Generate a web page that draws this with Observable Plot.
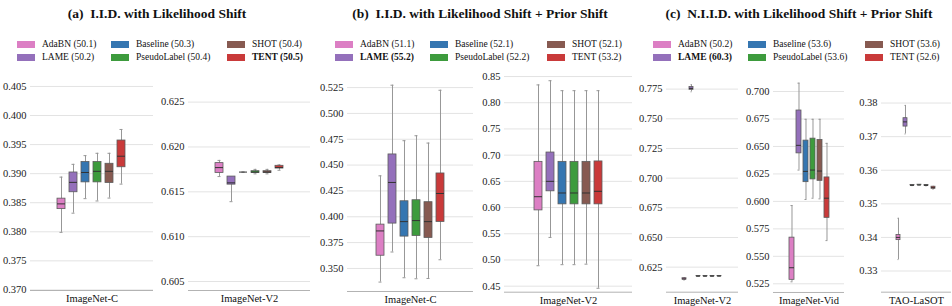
<!DOCTYPE html>
<html>
<head>
<meta charset="utf-8">
<script src="https://cdn.jsdelivr.net/npm/d3@7"></script>
<script src="https://cdn.jsdelivr.net/npm/@observablehq/plot@0.6"></script>
<style>
  body { margin: 0; background: #fff; }
  #root { position: relative; width: 952px; height: 306px; overflow: hidden; font-family: "Liberation Serif", "DejaVu Serif", serif; color: #111; }
  .title { position: absolute; font-weight: bold; font-size: 13.5px; text-align: center; white-space: pre; font-family: "Liberation Serif", "DejaVu Serif", serif; }
  .leg { position: absolute; font-size: 9.5px; white-space: pre; display: flex; align-items: center; font-family: "Liberation Serif", "DejaVu Serif", serif; }
  .sw { display: inline-block; width: 18px; height: 7px; margin-right: 7px; }
  .plot { position: absolute; }
</style>
</head>
<body>
<div id="root"></div>
<script>
// ---------------- data ----------------
const methods = ["AdaBN", "LAME", "Baseline", "PseudoLabel", "SHOT", "TENT"];
const colors = ["#dc7fc4", "#9470bb", "#3576b1", "#3d9b3d", "#875a51", "#c93a3a"];
const titles = [
  "(a)  I.I.D. with Likelihood Shift",
  "(b)  I.I.D. with Likelihood Shift + Prior Shift",
  "(c)  N.I.I.D. with Likelihood Shift + Prior Shift"
];
const scoresA = [50.1, 50.2, 50.3, 50.4, 50.4, 50.5];
const scoresB = [51.1, 55.2, 52.1, 52.2, 52.1, 53.2];
const scoresC = [50.2, 60.3, 53.6, 53.6, 53.6, 52.6];
const datasets = ["ImageNet-C", "ImageNet-V2", "ImageNet-C", "ImageNet-V2", "ImageNet-V2", "ImageNet-Vid", "TAO-LaSOT"];

// per method: [whisker low, Q1, median, Q3, whisker high]
const boxA_C = [
  [0.3799, 0.3839, 0.3848, 0.3857, 0.3894],
  [0.3832, 0.3868, 0.3885, 0.3902, 0.3916],
  [0.3857, 0.3885, 0.3902, 0.3920, 0.3931],
  [0.3853, 0.3885, 0.3904, 0.3920, 0.3935],
  [0.3858, 0.3884, 0.3904, 0.3917, 0.3935],
  [0.3882, 0.3911, 0.3930, 0.3957, 0.3976]
];
const boxA_V2 = [
  [0.6167, 0.6171, 0.6177, 0.6182, 0.6185],
  [0.6139, 0.6158, 0.6160, 0.6167, 0.6167],
  [0.6172, 0.6172, 0.6172, 0.6172, 0.6172],
  [0.6170, 0.6171, 0.6172, 0.6173, 0.6175],
  [0.6170, 0.6171, 0.6172, 0.6173, 0.6175],
  [0.6174, 0.6176, 0.6177, 0.6179, 0.6180]
];
const boxB_C = [
  [0.3368, 0.3623, 0.3863, 0.3924, 0.4396],
  [0.3659, 0.3934, 0.4332, 0.4603, 0.5273],
  [0.3410, 0.3808, 0.3953, 0.4150, 0.4736],
  [0.3400, 0.3814, 0.3963, 0.4160, 0.4784],
  [0.3403, 0.3795, 0.3953, 0.4141, 0.4713],
  [0.3584, 0.3950, 0.4225, 0.4419, 0.5224]
];
const boxB_V2 = [
  [0.489, 0.5946, 0.6207, 0.6872, 0.834],
  [0.543, 0.631, 0.650, 0.705, 0.842],
  [0.491, 0.6061, 0.6278, 0.6872, 0.823],
  [0.491, 0.6061, 0.6278, 0.6872, 0.823],
  [0.492, 0.6061, 0.6278, 0.6872, 0.823],
  [0.446, 0.6061, 0.631, 0.6880, 0.823]
];
const boxC_V2 = [
  [0.6140, 0.6145, 0.6151, 0.6157, 0.6162],
  [0.7727, 0.7744, 0.7756, 0.7767, 0.7787],
  [0.6172, 0.6173, 0.6174, 0.6175, 0.6176],
  [0.6172, 0.6173, 0.6174, 0.6175, 0.6176],
  [0.6172, 0.6173, 0.6174, 0.6175, 0.6176],
  [0.6172, 0.6173, 0.6175, 0.6176, 0.6177]
];
const boxC_Vid = [
  [0.5268, 0.5286, 0.5396, 0.5670, 0.5962],
  [0.6285, 0.6437, 0.6510, 0.6827, 0.7076],
  [0.6017, 0.6175, 0.6273, 0.6553, 0.6747],
  [0.6029, 0.6200, 0.6285, 0.6571, 0.6747],
  [0.6023, 0.6187, 0.6276, 0.6559, 0.6747],
  [0.5643, 0.5850, 0.6029, 0.6218, 0.6528]
];
const boxC_TAO = [
  [0.3334, 0.3392, 0.3400, 0.3407, 0.3457],
  [0.3708, 0.3730, 0.3744, 0.3755, 0.3793],
  [0.3554, 0.3555, 0.3555, 0.3556, 0.3556],
  [0.3555, 0.3556, 0.3556, 0.3557, 0.3557],
  [0.3553, 0.3554, 0.3555, 0.3556, 0.3557],
  [0.3543, 0.3545, 0.3548, 0.3551, 0.3552]
];

const ticksA_C = [0.370, 0.375, 0.380, 0.385, 0.390, 0.395, 0.400, 0.405];
const ticksA_V2 = [0.605, 0.610, 0.615, 0.620, 0.625];
const ticksB_C = [0.350, 0.375, 0.400, 0.425, 0.450, 0.475, 0.500, 0.525];
const ticksB_V2 = [0.45, 0.50, 0.55, 0.60, 0.65, 0.70, 0.75, 0.80, 0.85];
const ticksC_V2 = [0.625, 0.650, 0.675, 0.700, 0.725, 0.750, 0.775];
const ticksC_Vid = [0.525, 0.550, 0.575, 0.600, 0.625, 0.650, 0.675, 0.700];
const ticksC_TAO = [0.33, 0.34, 0.35, 0.36, 0.37, 0.38];

// ---------------- layout ----------------
const root = document.getElementById("root");
const FONT = "'Liberation Serif', 'DejaVu Serif', serif";

const titleCenters = [157, 480, 799];
titles.forEach((t, i) => {
  const d = document.createElement("div");
  d.className = "title";
  d.textContent = t;
  d.style.left = (titleCenters[i] - 200) + "px";
  d.style.width = "400px";
  d.style.top = "6px";
  root.appendChild(d);
});

const legendCols = [[17, 111, 227], [335, 430, 547], [653, 748, 865]];
const legendRows = [44, 57];
[scoresA, scoresB, scoresC].forEach((scores, g) => {
  const best = d3.max(scores);
  methods.forEach((m, i) => {
    const col = Math.floor(i / 2), row = i % 2;
    const d = document.createElement("div");
    d.className = "leg";
    d.style.left = legendCols[g][col] + "px";
    d.style.top = (legendRows[row] - 6) + "px";
    d.style.height = "12px";
    const sw = document.createElement("span");
    sw.className = "sw";
    sw.style.background = colors[i];
    const tx = document.createElement("span");
    tx.textContent = `${m} (${scores[i].toFixed(1)})`;
    if (scores[i] === best && scores.filter(s => s === best).length === 1) tx.style.fontWeight = "bold";
    d.appendChild(sw); d.appendChild(tx);
    root.appendChild(d);
  });
});

function boxPanel(stats, ticks, fmt, label, f) {
  const rows = stats.map((s, i) => ({method: methods[i], lo: s[0], q1: s[1], med: s[2], q3: s[3], hi: s[4], ds: label}));
  const top = 62, H = 244, mL = 34, mR = 1;
  const W = mL + (f.right - f.left) + mR;
  const svg = Plot.plot({
    width: W, height: H,
    marginLeft: mL, marginRight: mR, marginTop: 72 - top, marginBottom: top + H - f.bottom,
    style: {fontFamily: FONT, fontSize: "10.5px", background: "transparent", color: "#222", overflow: "visible"},
    fx: {domain: [label], padding: 0, label: null},
    x: {domain: methods, paddingInner: f.pad, paddingOuter: (10 - 6 + f.pad) / 2, axis: null},
    y: {domain: f.y, axis: null},
    color: {domain: methods, range: colors},
    marks: [
      Plot.gridY(ticks, {stroke: "#e3e3e3", strokeOpacity: 1, strokeWidth: 1}),
      Plot.ruleY([f.y[0]], {stroke: "#b3b3b3", strokeWidth: 1}),
      Plot.axisY(ticks, {tickFormat: d3.format(fmt), tickSize: 0, tickPadding: 4, line: true, stroke: "#b3b3b3", fill: "#222", label: null, fontFamily: FONT}),
      Plot.axisFx({anchor: "bottom", tickSize: 0, tickPadding: 4, label: null, fontSize: 10.5, fill: "#111", fontFamily: FONT}),
      Plot.ruleX(rows, {fx: "ds", x: "method", y1: "lo", y2: "hi", stroke: "#979797", strokeWidth: 1}),
      Plot.tickY(rows, {fx: "ds", x: "method", y: "lo", stroke: "#979797", insetLeft: f.cap, insetRight: f.cap}),
      Plot.tickY(rows, {fx: "ds", x: "method", y: "hi", stroke: "#979797", insetLeft: f.cap, insetRight: f.cap}),
      Plot.barY(rows, {fx: "ds", x: "method", y1: "q1", y2: "q3", fill: "method", stroke: "#5c5c5c", strokeWidth: 0.8}),
      Plot.tickY(rows, {fx: "ds", x: "method", y: "med", stroke: "#333", strokeWidth: 1})
    ]
  });
  svg.classList.add("plot");
  svg.style.left = (f.left - mL) + "px";
  svg.style.top = top + "px";
  root.appendChild(svg);
}

boxPanel(boxA_C, ticksA_C, ".3f", datasets[0], {left: 30, right: 153, bottom: 290, y: [0.3699, 0.4074], cap: 2.5, pad: 0.32});
boxPanel(boxA_V2, ticksA_V2, ".3f", datasets[1], {left: 188, right: 310, bottom: 290, y: [0.6040, 0.6283], cap: 2.5, pad: 0.32});
boxPanel(boxB_C, ticksB_C, ".3f", datasets[2], {left: 346.7, right: 473, bottom: 291, y: [0.3277, 0.5396], cap: 2.5, pad: 0.32});
boxPanel(boxB_V2, ticksB_V2, ".2f", datasets[3], {left: 504, right: 632, bottom: 291.7, y: [0.4385, 0.8577], cap: 2.5, pad: 0.32});
boxPanel(boxC_V2, ticksC_V2, ".3f", datasets[4], {left: 666, right: 738, bottom: 291.7, y: [0.6039, 0.7890], cap: 1.5, pad: 0.36});
boxPanel(boxC_Vid, ticksC_Vid, ".3f", datasets[5], {left: 773.3, right: 845, bottom: 292, y: [0.5171, 0.7173], cap: 1.5, pad: 0.32});
boxPanel(boxC_TAO, ticksC_TAO, ".2f", datasets[6], {left: 880.7, right: 951, bottom: 291.7, y: [0.3237, 0.3891], cap: 1.5, pad: 0.36});
</script>
</body>
</html>
